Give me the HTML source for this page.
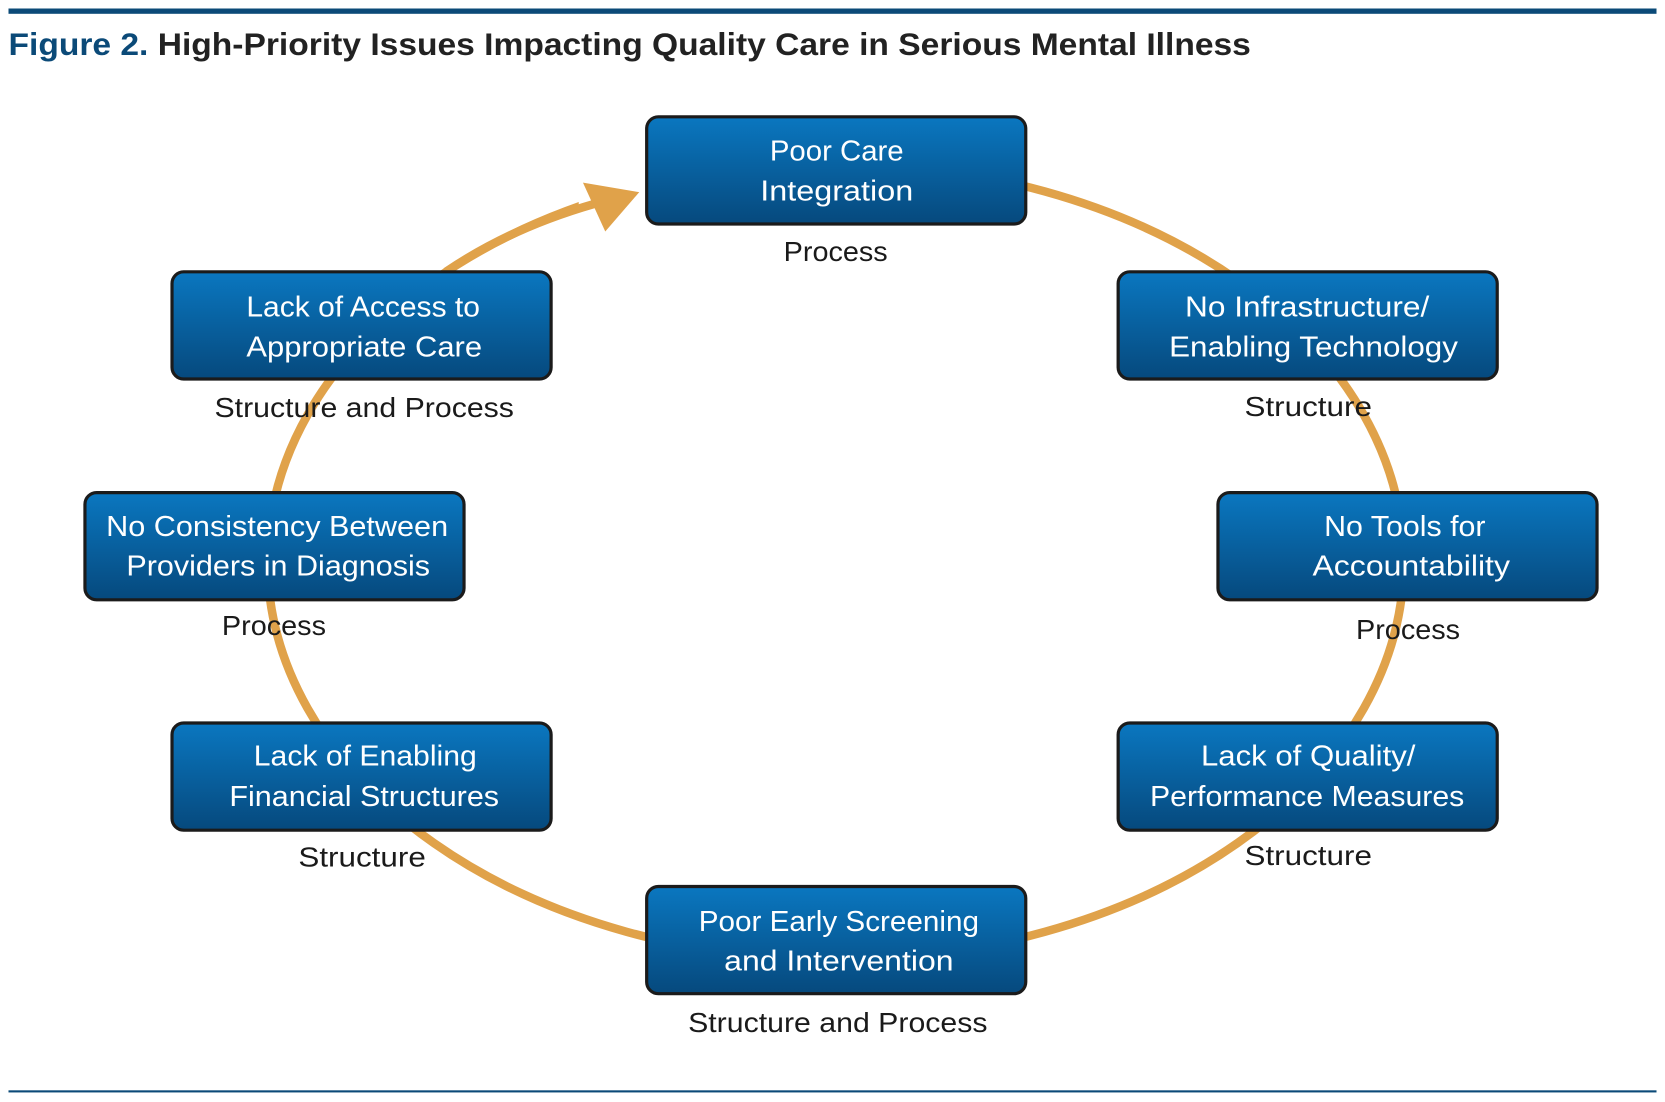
<!DOCTYPE html>
<html><head><meta charset="utf-8"><style>html,body{margin:0;padding:0;background:#fff}svg{display:block}</style></head>
<body>
<svg width="1665" height="1102" viewBox="0 0 1568 1038" preserveAspectRatio="none" xmlns="http://www.w3.org/2000/svg" font-family="Liberation Sans, sans-serif">
<defs>
<linearGradient id="g" x1="0" y1="0" x2="0" y2="1"><stop offset="0" stop-color="#0a77c0"/><stop offset="1" stop-color="#06497d"/></linearGradient>
</defs>
<rect x="8" y="8" width="1552" height="5" fill="#0b4a78"/>
<rect x="8" y="1027" width="1552" height="2" fill="#0b4a78"/>
<text x="8" y="52" font-size="30" font-weight="bold" textLength="1170" lengthAdjust="spacingAndGlyphs"><tspan fill="#0b4a78">Figure 2.</tspan><tspan fill="#222"> High-Priority Issues Impacting Quality Care in Serious Mental Illness</tspan></text>
<ellipse cx="787" cy="529" rx="535" ry="375" fill="none" stroke="#e0a24a" stroke-width="8"/>
<rect x="545" y="140" width="63" height="70" fill="#fff"/>
<path d="M420 256 Q480 215 560 192" fill="none" stroke="#e0a24a" stroke-width="8"/>
<polygon points="602,181 549,172 570,218" fill="#e0a24a"/>
<g stroke="#1b1b1b" stroke-width="3" fill="url(#g)">
<rect x="609" y="110" width="357" height="101" rx="11"/>
<rect x="162" y="256" width="357" height="101" rx="11"/>
<rect x="1053" y="256" width="357" height="101" rx="11"/>
<rect x="80" y="464" width="357" height="101" rx="11"/>
<rect x="1147" y="464" width="357" height="101" rx="11"/>
<rect x="162" y="681" width="357" height="101" rx="11"/>
<rect x="1053" y="681" width="357" height="101" rx="11"/>
<rect x="609" y="835" width="357" height="101" rx="11"/>
</g>
<g fill="#fff" font-size="27" text-anchor="middle">
<text x="788" y="151" textLength="126" lengthAdjust="spacingAndGlyphs">Poor Care</text>
<text x="788" y="189" textLength="144" lengthAdjust="spacingAndGlyphs">Integration</text>
<text x="342" y="298" textLength="220" lengthAdjust="spacingAndGlyphs">Lack of Access to</text>
<text x="343" y="336" textLength="222" lengthAdjust="spacingAndGlyphs">Appropriate Care</text>
<text x="1231" y="298" textLength="230" lengthAdjust="spacingAndGlyphs">No Infrastructure/</text>
<text x="1237" y="336" textLength="272" lengthAdjust="spacingAndGlyphs">Enabling Technology</text>
<text x="261" y="505" textLength="322" lengthAdjust="spacingAndGlyphs">No Consistency Between</text>
<text x="262" y="542" textLength="286" lengthAdjust="spacingAndGlyphs">Providers in Diagnosis</text>
<text x="1323" y="505" textLength="152" lengthAdjust="spacingAndGlyphs">No Tools for</text>
<text x="1329" y="542" textLength="186" lengthAdjust="spacingAndGlyphs">Accountability</text>
<text x="344" y="721" textLength="210" lengthAdjust="spacingAndGlyphs">Lack of Enabling</text>
<text x="343" y="759" textLength="254" lengthAdjust="spacingAndGlyphs">Financial Structures</text>
<text x="1232" y="721" textLength="202" lengthAdjust="spacingAndGlyphs">Lack of Quality/</text>
<text x="1231" y="759" textLength="296" lengthAdjust="spacingAndGlyphs">Performance Measures</text>
<text x="790" y="877" textLength="264" lengthAdjust="spacingAndGlyphs">Poor Early Screening</text>
<text x="790" y="914" textLength="216" lengthAdjust="spacingAndGlyphs">and Intervention</text>
</g>
<g fill="#1a1a1a" font-size="26" text-anchor="middle">
<text x="787" y="246" textLength="98" lengthAdjust="spacingAndGlyphs">Process</text>
<text x="343" y="393" textLength="282" lengthAdjust="spacingAndGlyphs">Structure and Process</text>
<text x="1232" y="392" textLength="120" lengthAdjust="spacingAndGlyphs">Structure</text>
<text x="258" y="598" textLength="98" lengthAdjust="spacingAndGlyphs">Process</text>
<text x="1326" y="602" textLength="98" lengthAdjust="spacingAndGlyphs">Process</text>
<text x="341" y="816" textLength="120" lengthAdjust="spacingAndGlyphs">Structure</text>
<text x="1232" y="815" textLength="120" lengthAdjust="spacingAndGlyphs">Structure</text>
<text x="789" y="972" textLength="282" lengthAdjust="spacingAndGlyphs">Structure and Process</text>
</g>
</svg>
</body></html>
